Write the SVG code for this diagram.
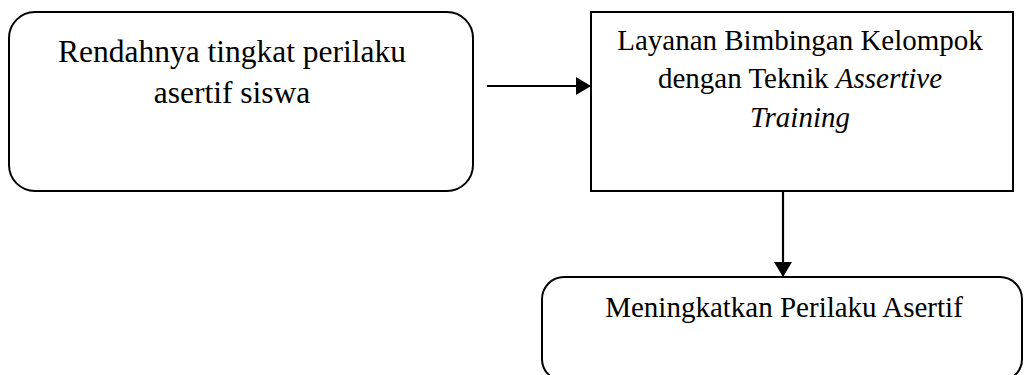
<svg xmlns="http://www.w3.org/2000/svg" width="1024" height="375" viewBox="0 0 1024 375">
<style>
.box{fill:#fff;stroke:#000;stroke-width:2}
.t{font-family:"Liberation Serif","Times New Roman",serif;fill:#000;text-anchor:middle}
.conn{stroke:#000;stroke-width:2.2;fill:none}
</style>
<defs>
<marker id="ah" markerWidth="15" markerHeight="18" refX="15" refY="9" orient="auto" markerUnits="userSpaceOnUse">
<path d="M0,0 L15,9 L0,18 Z" fill="#000"/>
</marker>
</defs>
<rect width="1024" height="375" fill="#fff"/>
<g id="node-rendahnya">
<rect class="box" x="9" y="12" width="464" height="179" rx="26" ry="26"/>
<text class="t" font-size="31.5" x="232" y="62">Rendahnya tingkat perilaku</text>
<text class="t" font-size="31.5" x="232" y="103">asertif siswa</text>
</g>
<g id="node-layanan">
<rect class="box" x="591" y="12" width="422" height="179"/>
<text class="t" font-size="29" x="800" y="50">Layanan Bimbingan Kelompok</text>
<text class="t" font-size="29" x="800" y="88">dengan Teknik <tspan font-style="italic">Assertive</tspan></text>
<text class="t" font-size="29" x="800" y="127" font-style="italic">Training</text>
</g>
<g id="node-meningkatkan">
<rect class="box" x="542" y="277" width="480" height="104" rx="22" ry="22"/>
<text class="t" font-size="29" x="784" y="317">Meningkatkan Perilaku Asertif</text>
</g>
<g id="connectors">
<line class="conn" x1="487" y1="86" x2="591" y2="86" marker-end="url(#ah)"/>
<line class="conn" x1="783" y1="191" x2="783" y2="277" marker-end="url(#ah)"/>
</g>
</svg>
